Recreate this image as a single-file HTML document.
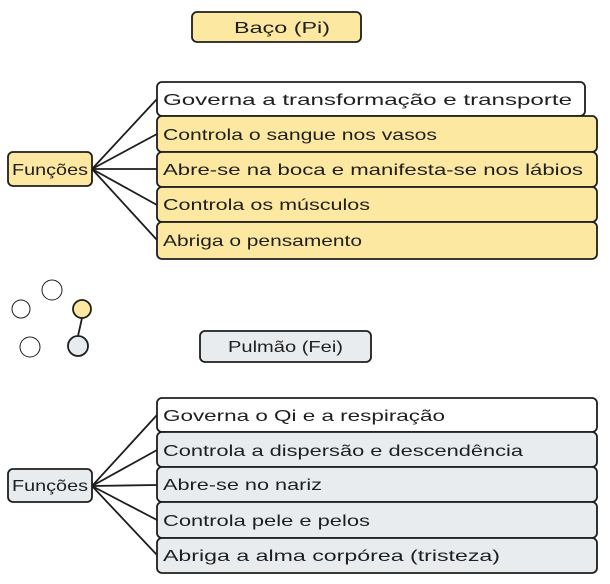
<!DOCTYPE html>
<html><head><style>
body{margin:0;background:#fff}
svg{display:block}
text{font-family:"Liberation Sans",sans-serif;font-size:16px;fill:#1e1e1e}
</style></head><body>
<svg width="610" height="584" viewBox="0 0 610 584">
<g stroke="#1e1e1e" stroke-width="1.8" fill="none">
<path d="M92 169 L157 99 M92 169 L157 134 M92 169 L157 169 M92 169 L157 205 M92 169 L157 240"/>
<path d="M92 486 L157 415 M92 486 L157 450 M92 486 L157 485 M92 486 L157 520 M92 486 L157 555"/>
<line x1="82" y1="318" x2="78" y2="336"/>
</g>
<g stroke="#1e1e1e" stroke-width="1.8">
<rect x="192" y="12" width="169" height="30" rx="5" fill="#fce8a0"/>
<rect x="157" y="82" width="428" height="34" rx="5" fill="#fff"/>
<rect x="157" y="116" width="440" height="36" rx="5" fill="#fce8a0"/>
<rect x="157" y="152" width="440" height="35" rx="5" fill="#fce8a0"/>
<rect x="157" y="187" width="440" height="35" rx="5" fill="#fce8a0"/>
<rect x="157" y="222" width="440" height="37" rx="5" fill="#fce8a0"/>
<rect x="8" y="152" width="84" height="34" rx="5" fill="#fce8a0"/>
<circle cx="21" cy="309" r="9" fill="#fff" stroke-width="1"/>
<circle cx="52" cy="290" r="10" fill="#fff" stroke-width="1"/>
<circle cx="82" cy="309" r="9" fill="#fce8a0"/>
<circle cx="30" cy="347" r="10" fill="#fff" stroke-width="1"/>
<circle cx="78" cy="346" r="10" fill="#e9ecef"/>
<rect x="200" y="331" width="171" height="31" rx="5" fill="#e9ecef"/>
<rect x="157" y="398" width="440" height="34" rx="5" fill="#fff"/>
<rect x="157" y="432" width="440" height="35" rx="5" fill="#e9ecef"/>
<rect x="157" y="467" width="440" height="35" rx="5" fill="#e9ecef"/>
<rect x="157" y="502" width="440" height="36" rx="5" fill="#e9ecef"/>
<rect x="157" y="538" width="440" height="35" rx="5" fill="#e9ecef"/>
<rect x="8" y="469" width="84" height="33" rx="5" fill="#e9ecef"/>
</g>
<text x="234" y="33" textLength="96" lengthAdjust="spacingAndGlyphs">Baço (Pi)</text>
<text x="163" y="105" textLength="409" lengthAdjust="spacingAndGlyphs">Governa a transformação e transporte</text>
<text x="163" y="140" textLength="274" lengthAdjust="spacingAndGlyphs">Controla o sangue nos vasos</text>
<text x="163" y="175" textLength="420" lengthAdjust="spacingAndGlyphs">Abre-se na boca e manifesta-se nos lábios</text>
<text x="163" y="210" textLength="207" lengthAdjust="spacingAndGlyphs">Controla os músculos</text>
<text x="163" y="246" textLength="199" lengthAdjust="spacingAndGlyphs">Abriga o pensamento</text>
<text x="12" y="175" textLength="76" lengthAdjust="spacingAndGlyphs">Funções</text>
<text x="228" y="352" textLength="115" lengthAdjust="spacingAndGlyphs">Pulmão (Fei)</text>
<text x="163" y="421" textLength="282" lengthAdjust="spacingAndGlyphs">Governa o Qi e a respiração</text>
<text x="163" y="456" textLength="360" lengthAdjust="spacingAndGlyphs">Controla a dispersão e descendência</text>
<text x="163" y="490" textLength="159" lengthAdjust="spacingAndGlyphs">Abre-se no nariz</text>
<text x="163" y="526" textLength="207" lengthAdjust="spacingAndGlyphs">Controla pele e pelos</text>
<text x="163" y="561" textLength="337" lengthAdjust="spacingAndGlyphs">Abriga a alma corpórea (tristeza)</text>
<text x="12" y="491" textLength="76" lengthAdjust="spacingAndGlyphs">Funções</text>
</svg>
</body></html>
